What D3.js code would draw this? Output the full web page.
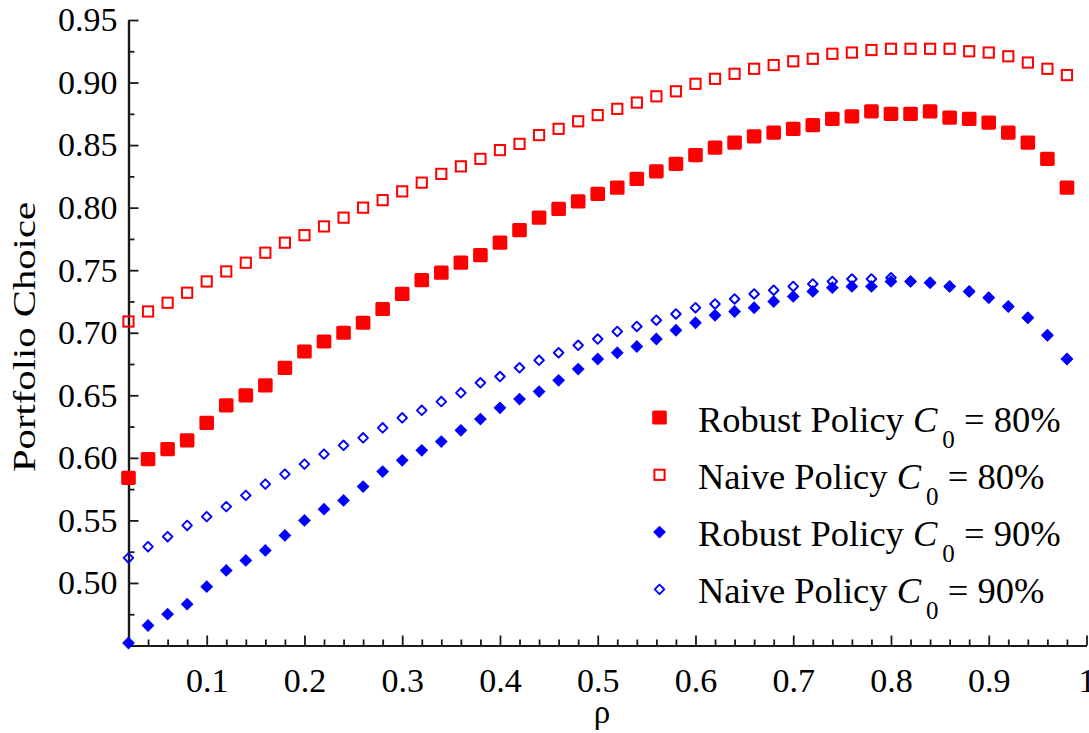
<!DOCTYPE html>
<html>
<head>
<meta charset="utf-8">
<script src="https://cdn.jsdelivr.net/npm/d3@7/dist/d3.min.js"></script>
<style>
  body { margin: 0; background: #fff; }
  svg { display: block; }
  text { font-family: "Liberation Serif", "Times New Roman", serif; fill: #000; }
</style>
</head>
<body>
<svg id="chart" width="1089" height="733"></svg>
<script>
// Correlation grid (rho)
const rho = [0.02, 0.04, 0.06, 0.08, 0.10, 0.12, 0.14, 0.16, 0.18, 0.20,
             0.22, 0.24, 0.26, 0.28, 0.30, 0.32, 0.34, 0.36, 0.38, 0.40,
             0.42, 0.44, 0.46, 0.48, 0.50, 0.52, 0.54, 0.56, 0.58, 0.60,
             0.62, 0.64, 0.66, 0.68, 0.70, 0.72, 0.74, 0.76, 0.78, 0.80,
             0.82, 0.84, 0.86, 0.88, 0.90, 0.92, 0.94, 0.96, 0.98];

// Portfolio choice under each policy
const robust80 = [0.584, 0.599, 0.607, 0.614, 0.628, 0.642, 0.650, 0.658, 0.672, 0.685,
                  0.693, 0.700, 0.708, 0.719, 0.731, 0.742, 0.748, 0.756, 0.762, 0.772,
                  0.782, 0.792, 0.799, 0.805, 0.811, 0.816, 0.823, 0.829, 0.835, 0.842,
                  0.848, 0.852, 0.857, 0.860, 0.863, 0.866, 0.871, 0.873, 0.877, 0.875,
                  0.875, 0.877, 0.872, 0.871, 0.868, 0.860, 0.852, 0.839, 0.816];
const naive80  = [0.709, 0.717, 0.724, 0.732, 0.741, 0.749, 0.756, 0.764, 0.772, 0.778,
                  0.785, 0.792, 0.800, 0.806, 0.813, 0.820, 0.827, 0.833, 0.839, 0.846,
                  0.851, 0.858, 0.863, 0.869, 0.874, 0.879, 0.884, 0.889, 0.893, 0.899,
                  0.903, 0.907, 0.911, 0.914, 0.917, 0.919, 0.923, 0.924, 0.926, 0.927,
                  0.927, 0.927, 0.927, 0.925, 0.924, 0.921, 0.916, 0.911, 0.906];
const robust90 = [0.452, 0.466, 0.475, 0.483, 0.497, 0.510, 0.518, 0.526, 0.538, 0.550,
                  0.559, 0.566, 0.577, 0.589, 0.598, 0.606, 0.613, 0.622, 0.631, 0.640,
                  0.647, 0.653, 0.662, 0.671, 0.679, 0.684, 0.689, 0.695, 0.702, 0.708,
                  0.714, 0.717, 0.720, 0.725, 0.729, 0.733, 0.736, 0.737, 0.737, 0.741,
                  0.741, 0.740, 0.737, 0.733, 0.728, 0.721, 0.712, 0.698, 0.679];
const naive90  = [0.520, 0.529, 0.537, 0.546, 0.553, 0.561, 0.570, 0.579, 0.587, 0.595,
                  0.603, 0.610, 0.616, 0.624, 0.632, 0.638, 0.645, 0.652, 0.660, 0.665,
                  0.672, 0.678, 0.684, 0.690, 0.695, 0.701, 0.705, 0.710, 0.715, 0.720,
                  0.723, 0.727, 0.731, 0.734, 0.737, 0.739, 0.741, 0.743, 0.743, 0.744,
                  0.741, 0.740, 0.737, 0.733, 0.728, 0.721, 0.712, 0.698, 0.679];

// Tick positions and labels
const xMajorTicks = [0.1, 0.2, 0.3, 0.4, 0.5, 0.6, 0.7, 0.8, 0.9, 1.0];
const xTickLabels = ["0.1", "0.2", "0.3", "0.4", "0.5", "0.6", "0.7", "0.8", "0.9", "1"];
const xMinorTicks = [0.04, 0.06, 0.08, 0.12, 0.14, 0.16, 0.18, 0.22, 0.24, 0.26, 0.28,
                     0.32, 0.34, 0.36, 0.38, 0.42, 0.44, 0.46, 0.48, 0.52, 0.54, 0.56, 0.58,
                     0.62, 0.64, 0.66, 0.68, 0.72, 0.74, 0.76, 0.78, 0.82, 0.84, 0.86, 0.88,
                     0.92, 0.94, 0.96, 0.98];
const yMajorTicks = [0.50, 0.55, 0.60, 0.65, 0.70, 0.75, 0.80, 0.85, 0.90, 0.95];
const yMinorTicks = [0.475, 0.525, 0.575, 0.625, 0.675, 0.725, 0.775, 0.825, 0.875, 0.925];

const legendLabels = ["Robust Policy ", "Naive Policy ", "Robust Policy ", "Naive Policy "];
const legendLevels = ["80%", "80%", "90%", "90%"];

const svg = d3.select("#chart");

const x = d3.scaleLinear().domain([0.02, 1.0]).range([128.5, 1086.5]);
const y = d3.scaleLinear().domain([0.45, 0.95]).range([645.5, 20]);

// Marker shapes
function diamondPath(r) {
  const p = d3.path();
  p.moveTo(0, -r); p.lineTo(r, 0); p.lineTo(0, r); p.lineTo(-r, 0); p.closePath();
  return p.toString();
}
const markers = {
  robust80: g => g.append("rect").attr("x", -7.3).attr("y", -7.1).attr("width", 14.6).attr("height", 14.2)
                  .attr("rx", 1.6).attr("fill", "#ff0000"),
  naive80:  g => g.append("rect").attr("x", -5.1).attr("y", -5.1).attr("width", 10.2).attr("height", 10.2)
                  .attr("fill", "none").attr("stroke", "#ff0000").attr("stroke-width", 2),
  robust90: g => g.append("path").attr("d", diamondPath(6.4)).attr("fill", "#0000ff"),
  naive90:  g => g.append("path").attr("d", diamondPath(4.8)).attr("fill", "none")
                  .attr("stroke", "#0000ff").attr("stroke-width", 1.9).attr("stroke-linejoin", "round")
};

const series = [
  { key: "naive80",  values: naive80 },
  { key: "robust80", values: robust80 },
  { key: "naive90",  values: naive90 },
  { key: "robust90", values: robust90 }
];

// Axes
const axisColor = "#1a1a1a";
const styleAxis = g => {
  g.select(".domain").attr("stroke", axisColor).attr("stroke-width", 2.2);
  g.selectAll(".tick line").attr("stroke", axisColor).attr("stroke-width", 1.8);
  g.selectAll(".tick text").style("font-family", '"Liberation Serif", "Times New Roman", serif');
};

svg.append("g")
  .attr("transform", `translate(0,${y(0.45)})`)
  .call(d3.axisBottom(x).tickValues(xMinorTicks).tickSize(-6).tickSizeOuter(0).tickFormat(""))
  .call(styleAxis);
svg.append("g")
  .attr("transform", `translate(0,${y(0.45)})`)
  .call(d3.axisBottom(x).tickValues(xMajorTicks).tickSize(-10).tickSizeOuter(0)
        .tickPadding(22).tickFormat((d, i) => xTickLabels[i]))
  .call(styleAxis)
  .call(g => g.selectAll(".tick text").attr("font-size", 34).attr("fill", "#000"));

svg.append("g")
  .attr("transform", `translate(${x(0.02)},0)`)
  .call(d3.axisLeft(y).tickValues(yMinorTicks).tickSize(-6).tickSizeOuter(0).tickFormat(""))
  .call(styleAxis);
svg.append("g")
  .attr("transform", `translate(${x(0.02)},0)`)
  .call(d3.axisLeft(y).tickValues(yMajorTicks).tickSize(-10).tickSizeOuter(0)
        .tickPadding(11).tickFormat(d3.format(".2f")))
  .call(styleAxis)
  .call(g => g.selectAll(".tick text").attr("font-size", 34).attr("fill", "#000"));

// Axis titles
svg.append("text")
  .attr("transform", "translate(35,337) rotate(-90)")
  .attr("text-anchor", "middle")
  .attr("font-size", 32)
  .attr("textLength", 270)
  .attr("lengthAdjust", "spacingAndGlyphs")
  .text("Portfolio Choice");

svg.append("text")
  .attr("x", 602).attr("y", 723)
  .attr("text-anchor", "middle")
  .attr("font-size", 33)
  .text("ρ");

// Data points
series.forEach(s => {
  svg.append("g").attr("class", "series-" + s.key)
    .selectAll("g")
    .data(s.values.map((v, i) => ({ r: rho[i], v })))
    .join("g")
    .attr("transform", d => `translate(${x(d.r)},${y(d.v)})`)
    .each(function () { markers[s.key](d3.select(this)); });
});

// Legend
const legendKeys = ["robust80", "naive80", "robust90", "naive90"];
const legend = svg.append("g");
legendKeys.forEach((k, i) => {
  const row = legend.append("g").attr("transform", `translate(0,${i * 57.3})`);
  row.append("g").attr("transform", "translate(659.5,417.5)").call(g => markers[k](g));
  const t = row.append("text").attr("x", 698).attr("y", 431.5).attr("font-size", 36.5);
  t.append("tspan").text(legendLabels[i]);
  t.append("tspan").attr("font-style", "italic").text("C");
  t.append("tspan").attr("dx", 5).attr("dy", 16).attr("font-size", 25).text("0");
  t.append("tspan").attr("dy", -16).text(" = " + legendLevels[i]);
});
</script>
</body>
</html>
